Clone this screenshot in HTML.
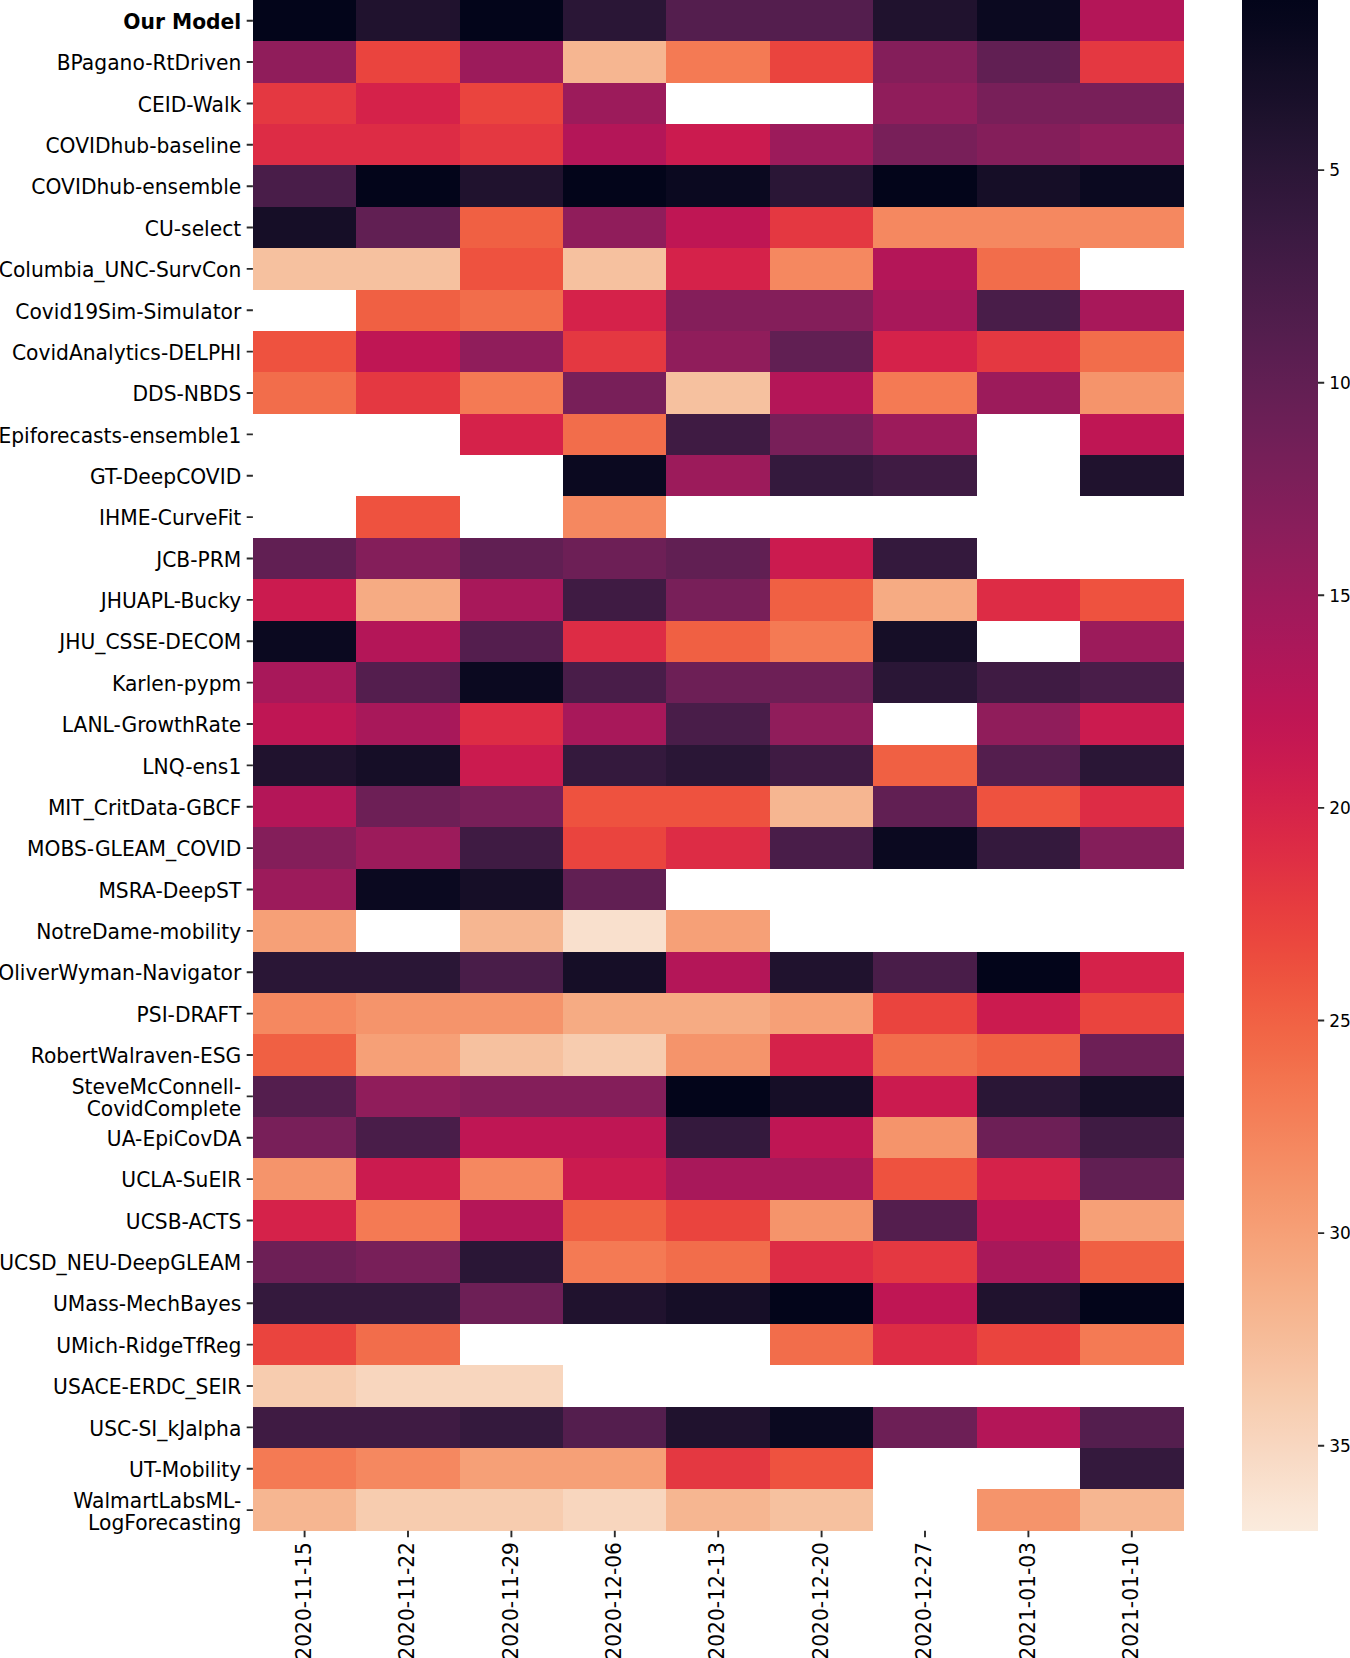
<!DOCTYPE html><html><head><meta charset="utf-8"><style>html,body{margin:0;padding:0;background:#fff;}svg{display:block;}text{font-family:"DejaVu Sans","Liberation Sans",sans-serif;font-size:20.26px;fill:#000;}</style></head><body>
<svg width="1350" height="1658" viewBox="0 0 1350 1658">
<defs><linearGradient id="cb" x1="0" y1="0" x2="0" y2="1"><stop offset="0.0000" stop-color="#03051a"/><stop offset="0.0156" stop-color="#07071d"/><stop offset="0.0312" stop-color="#0d0a21"/><stop offset="0.0469" stop-color="#130d25"/><stop offset="0.0625" stop-color="#180f29"/><stop offset="0.0781" stop-color="#1e122d"/><stop offset="0.0938" stop-color="#241432"/><stop offset="0.1094" stop-color="#2a1636"/><stop offset="0.1250" stop-color="#30173a"/><stop offset="0.1406" stop-color="#35193e"/><stop offset="0.1562" stop-color="#3c1a42"/><stop offset="0.1719" stop-color="#421b45"/><stop offset="0.1875" stop-color="#481c48"/><stop offset="0.2031" stop-color="#4e1d4b"/><stop offset="0.2188" stop-color="#541e4e"/><stop offset="0.2344" stop-color="#5b1e51"/><stop offset="0.2500" stop-color="#611f53"/><stop offset="0.2656" stop-color="#681f55"/><stop offset="0.2812" stop-color="#6e1f57"/><stop offset="0.2969" stop-color="#751f58"/><stop offset="0.3125" stop-color="#7b1f59"/><stop offset="0.3281" stop-color="#821e5a"/><stop offset="0.3438" stop-color="#891e5b"/><stop offset="0.3594" stop-color="#901d5b"/><stop offset="0.3750" stop-color="#971c5b"/><stop offset="0.3906" stop-color="#9e1a5b"/><stop offset="0.4062" stop-color="#a4195b"/><stop offset="0.4219" stop-color="#ab185a"/><stop offset="0.4375" stop-color="#b21758"/><stop offset="0.4531" stop-color="#b91657"/><stop offset="0.4688" stop-color="#bf1654"/><stop offset="0.4844" stop-color="#c51852"/><stop offset="0.5000" stop-color="#cb1b4f"/><stop offset="0.5156" stop-color="#d11f4c"/><stop offset="0.5312" stop-color="#d62449"/><stop offset="0.5469" stop-color="#db2946"/><stop offset="0.5625" stop-color="#df2f44"/><stop offset="0.5781" stop-color="#e33641"/><stop offset="0.5938" stop-color="#e73d3f"/><stop offset="0.6094" stop-color="#ea443e"/><stop offset="0.6250" stop-color="#ec4c3e"/><stop offset="0.6406" stop-color="#ee543f"/><stop offset="0.6562" stop-color="#f05c42"/><stop offset="0.6719" stop-color="#f16445"/><stop offset="0.6875" stop-color="#f26b49"/><stop offset="0.7031" stop-color="#f3734e"/><stop offset="0.7188" stop-color="#f47a54"/><stop offset="0.7344" stop-color="#f4815a"/><stop offset="0.7500" stop-color="#f58860"/><stop offset="0.7656" stop-color="#f58f66"/><stop offset="0.7812" stop-color="#f5966c"/><stop offset="0.7969" stop-color="#f69c73"/><stop offset="0.8125" stop-color="#f6a37a"/><stop offset="0.8281" stop-color="#f6a981"/><stop offset="0.8438" stop-color="#f6b089"/><stop offset="0.8594" stop-color="#f6b691"/><stop offset="0.8750" stop-color="#f6bc99"/><stop offset="0.8906" stop-color="#f7c2a2"/><stop offset="0.9062" stop-color="#f7c9aa"/><stop offset="0.9219" stop-color="#f7cfb3"/><stop offset="0.9375" stop-color="#f8d4bc"/><stop offset="0.9531" stop-color="#f8dac5"/><stop offset="0.9688" stop-color="#f9e0cd"/><stop offset="0.9844" stop-color="#fae6d6"/><stop offset="1.0000" stop-color="#faebdd"/></linearGradient></defs>
<g shape-rendering="crispEdges">
<rect x="253" y="0" width="103" height="41" fill="#03051a"/>
<rect x="356" y="0" width="104" height="41" fill="#20122e"/>
<rect x="460" y="0" width="103" height="41" fill="#03051a"/>
<rect x="563" y="0" width="103" height="41" fill="#2a1636"/>
<rect x="666" y="0" width="104" height="41" fill="#541e4e"/>
<rect x="770" y="0" width="103" height="41" fill="#541e4e"/>
<rect x="873" y="0" width="104" height="41" fill="#20122e"/>
<rect x="977" y="0" width="103" height="41" fill="#0b0920"/>
<rect x="1080" y="0" width="104" height="41" fill="#b41658"/>
<rect x="253" y="41" width="103" height="42" fill="#901d5b"/>
<rect x="356" y="41" width="104" height="42" fill="#ea443e"/>
<rect x="460" y="41" width="103" height="42" fill="#9c1b5b"/>
<rect x="563" y="41" width="103" height="42" fill="#f6b691"/>
<rect x="666" y="41" width="104" height="42" fill="#f47a54"/>
<rect x="770" y="41" width="103" height="42" fill="#ea443e"/>
<rect x="873" y="41" width="104" height="42" fill="#841e5a"/>
<rect x="977" y="41" width="103" height="42" fill="#611f53"/>
<rect x="1080" y="41" width="104" height="42" fill="#e43841"/>
<rect x="253" y="83" width="103" height="41" fill="#e43841"/>
<rect x="356" y="83" width="104" height="41" fill="#d5224a"/>
<rect x="460" y="83" width="103" height="41" fill="#ea443e"/>
<rect x="563" y="83" width="103" height="41" fill="#9c1b5b"/>
<rect x="873" y="83" width="104" height="41" fill="#901d5b"/>
<rect x="977" y="83" width="103" height="41" fill="#781f59"/>
<rect x="1080" y="83" width="104" height="41" fill="#781f59"/>
<rect x="253" y="124" width="103" height="41" fill="#dd2c45"/>
<rect x="356" y="124" width="104" height="41" fill="#dd2c45"/>
<rect x="460" y="124" width="103" height="41" fill="#e43841"/>
<rect x="563" y="124" width="103" height="41" fill="#b41658"/>
<rect x="666" y="124" width="104" height="41" fill="#cb1b4f"/>
<rect x="770" y="124" width="103" height="41" fill="#9c1b5b"/>
<rect x="873" y="124" width="104" height="41" fill="#781f59"/>
<rect x="977" y="124" width="103" height="41" fill="#841e5a"/>
<rect x="1080" y="124" width="104" height="41" fill="#901d5b"/>
<rect x="253" y="165" width="103" height="42" fill="#491d49"/>
<rect x="356" y="165" width="104" height="42" fill="#03051a"/>
<rect x="460" y="165" width="103" height="42" fill="#20122e"/>
<rect x="563" y="165" width="103" height="42" fill="#03051a"/>
<rect x="666" y="165" width="104" height="42" fill="#0b0920"/>
<rect x="770" y="165" width="103" height="42" fill="#2a1636"/>
<rect x="873" y="165" width="104" height="42" fill="#03051a"/>
<rect x="977" y="165" width="103" height="42" fill="#160e27"/>
<rect x="1080" y="165" width="104" height="42" fill="#0b0920"/>
<rect x="253" y="207" width="103" height="41" fill="#160e27"/>
<rect x="356" y="207" width="104" height="41" fill="#611f53"/>
<rect x="460" y="207" width="103" height="41" fill="#f06043"/>
<rect x="563" y="207" width="103" height="41" fill="#901d5b"/>
<rect x="666" y="207" width="104" height="41" fill="#bf1654"/>
<rect x="770" y="207" width="103" height="41" fill="#e43841"/>
<rect x="873" y="207" width="104" height="41" fill="#f58860"/>
<rect x="977" y="207" width="103" height="41" fill="#f58860"/>
<rect x="1080" y="207" width="104" height="41" fill="#f58860"/>
<rect x="253" y="248" width="103" height="42" fill="#f6c19f"/>
<rect x="356" y="248" width="104" height="42" fill="#f6c19f"/>
<rect x="460" y="248" width="103" height="42" fill="#ee523f"/>
<rect x="563" y="248" width="103" height="42" fill="#f6c19f"/>
<rect x="666" y="248" width="104" height="42" fill="#d5224a"/>
<rect x="770" y="248" width="103" height="42" fill="#f58860"/>
<rect x="873" y="248" width="104" height="42" fill="#b41658"/>
<rect x="977" y="248" width="103" height="42" fill="#f26d4b"/>
<rect x="356" y="290" width="104" height="41" fill="#f06043"/>
<rect x="460" y="290" width="103" height="41" fill="#f26d4b"/>
<rect x="563" y="290" width="103" height="41" fill="#d5224a"/>
<rect x="666" y="290" width="104" height="41" fill="#841e5a"/>
<rect x="770" y="290" width="103" height="41" fill="#841e5a"/>
<rect x="873" y="290" width="104" height="41" fill="#a8185a"/>
<rect x="977" y="290" width="103" height="41" fill="#491d49"/>
<rect x="1080" y="290" width="104" height="41" fill="#a8185a"/>
<rect x="253" y="331" width="103" height="41" fill="#ee523f"/>
<rect x="356" y="331" width="104" height="41" fill="#bf1654"/>
<rect x="460" y="331" width="103" height="41" fill="#901d5b"/>
<rect x="563" y="331" width="103" height="41" fill="#e43841"/>
<rect x="666" y="331" width="104" height="41" fill="#901d5b"/>
<rect x="770" y="331" width="103" height="41" fill="#611f53"/>
<rect x="873" y="331" width="104" height="41" fill="#d5224a"/>
<rect x="977" y="331" width="103" height="41" fill="#e43841"/>
<rect x="1080" y="331" width="104" height="41" fill="#f26d4b"/>
<rect x="253" y="372" width="103" height="42" fill="#f26d4b"/>
<rect x="356" y="372" width="104" height="42" fill="#e43841"/>
<rect x="460" y="372" width="103" height="42" fill="#f47a54"/>
<rect x="563" y="372" width="103" height="42" fill="#781f59"/>
<rect x="666" y="372" width="104" height="42" fill="#f6c19f"/>
<rect x="770" y="372" width="103" height="42" fill="#b41658"/>
<rect x="873" y="372" width="104" height="42" fill="#f47a54"/>
<rect x="977" y="372" width="103" height="42" fill="#9c1b5b"/>
<rect x="1080" y="372" width="104" height="42" fill="#f5946b"/>
<rect x="460" y="414" width="103" height="41" fill="#d5224a"/>
<rect x="563" y="414" width="103" height="41" fill="#f26d4b"/>
<rect x="666" y="414" width="104" height="41" fill="#3f1b43"/>
<rect x="770" y="414" width="103" height="41" fill="#781f59"/>
<rect x="873" y="414" width="104" height="41" fill="#9c1b5b"/>
<rect x="1080" y="414" width="104" height="41" fill="#bf1654"/>
<rect x="563" y="455" width="103" height="41" fill="#0b0920"/>
<rect x="666" y="455" width="104" height="41" fill="#9c1b5b"/>
<rect x="770" y="455" width="103" height="41" fill="#34193d"/>
<rect x="873" y="455" width="104" height="41" fill="#3f1b43"/>
<rect x="1080" y="455" width="104" height="41" fill="#20122e"/>
<rect x="356" y="496" width="104" height="42" fill="#ee523f"/>
<rect x="563" y="496" width="103" height="42" fill="#f58860"/>
<rect x="253" y="538" width="103" height="41" fill="#611f53"/>
<rect x="356" y="538" width="104" height="41" fill="#841e5a"/>
<rect x="460" y="538" width="103" height="41" fill="#611f53"/>
<rect x="563" y="538" width="103" height="41" fill="#6d1f56"/>
<rect x="666" y="538" width="104" height="41" fill="#611f53"/>
<rect x="770" y="538" width="103" height="41" fill="#cb1b4f"/>
<rect x="873" y="538" width="104" height="41" fill="#34193d"/>
<rect x="253" y="579" width="103" height="42" fill="#cb1b4f"/>
<rect x="356" y="579" width="104" height="42" fill="#f6ab83"/>
<rect x="460" y="579" width="103" height="42" fill="#a8185a"/>
<rect x="563" y="579" width="103" height="42" fill="#3f1b43"/>
<rect x="666" y="579" width="104" height="42" fill="#781f59"/>
<rect x="770" y="579" width="103" height="42" fill="#f06043"/>
<rect x="873" y="579" width="104" height="42" fill="#f6ab83"/>
<rect x="977" y="579" width="103" height="42" fill="#dd2c45"/>
<rect x="1080" y="579" width="104" height="42" fill="#ee523f"/>
<rect x="253" y="621" width="103" height="41" fill="#0b0920"/>
<rect x="356" y="621" width="104" height="41" fill="#b41658"/>
<rect x="460" y="621" width="103" height="41" fill="#541e4e"/>
<rect x="563" y="621" width="103" height="41" fill="#dd2c45"/>
<rect x="666" y="621" width="104" height="41" fill="#f06043"/>
<rect x="770" y="621" width="103" height="41" fill="#f47a54"/>
<rect x="873" y="621" width="104" height="41" fill="#160e27"/>
<rect x="1080" y="621" width="104" height="41" fill="#9c1b5b"/>
<rect x="253" y="662" width="103" height="41" fill="#a8185a"/>
<rect x="356" y="662" width="104" height="41" fill="#541e4e"/>
<rect x="460" y="662" width="103" height="41" fill="#0b0920"/>
<rect x="563" y="662" width="103" height="41" fill="#491d49"/>
<rect x="666" y="662" width="104" height="41" fill="#6d1f56"/>
<rect x="770" y="662" width="103" height="41" fill="#6d1f56"/>
<rect x="873" y="662" width="104" height="41" fill="#2a1636"/>
<rect x="977" y="662" width="103" height="41" fill="#3f1b43"/>
<rect x="1080" y="662" width="104" height="41" fill="#491d49"/>
<rect x="253" y="703" width="103" height="42" fill="#bf1654"/>
<rect x="356" y="703" width="104" height="42" fill="#a8185a"/>
<rect x="460" y="703" width="103" height="42" fill="#dd2c45"/>
<rect x="563" y="703" width="103" height="42" fill="#a8185a"/>
<rect x="666" y="703" width="104" height="42" fill="#491d49"/>
<rect x="770" y="703" width="103" height="42" fill="#901d5b"/>
<rect x="977" y="703" width="103" height="42" fill="#901d5b"/>
<rect x="1080" y="703" width="104" height="42" fill="#cb1b4f"/>
<rect x="253" y="745" width="103" height="41" fill="#20122e"/>
<rect x="356" y="745" width="104" height="41" fill="#160e27"/>
<rect x="460" y="745" width="103" height="41" fill="#cb1b4f"/>
<rect x="563" y="745" width="103" height="41" fill="#34193d"/>
<rect x="666" y="745" width="104" height="41" fill="#2a1636"/>
<rect x="770" y="745" width="103" height="41" fill="#3f1b43"/>
<rect x="873" y="745" width="104" height="41" fill="#f06043"/>
<rect x="977" y="745" width="103" height="41" fill="#541e4e"/>
<rect x="1080" y="745" width="104" height="41" fill="#2a1636"/>
<rect x="253" y="786" width="103" height="41" fill="#b41658"/>
<rect x="356" y="786" width="104" height="41" fill="#6d1f56"/>
<rect x="460" y="786" width="103" height="41" fill="#781f59"/>
<rect x="563" y="786" width="103" height="41" fill="#ee523f"/>
<rect x="666" y="786" width="104" height="41" fill="#ee523f"/>
<rect x="770" y="786" width="103" height="41" fill="#f6b691"/>
<rect x="873" y="786" width="104" height="41" fill="#611f53"/>
<rect x="977" y="786" width="103" height="41" fill="#ee523f"/>
<rect x="1080" y="786" width="104" height="41" fill="#dd2c45"/>
<rect x="253" y="827" width="103" height="42" fill="#841e5a"/>
<rect x="356" y="827" width="104" height="42" fill="#9c1b5b"/>
<rect x="460" y="827" width="103" height="42" fill="#3f1b43"/>
<rect x="563" y="827" width="103" height="42" fill="#ea443e"/>
<rect x="666" y="827" width="104" height="42" fill="#dd2c45"/>
<rect x="770" y="827" width="103" height="42" fill="#491d49"/>
<rect x="873" y="827" width="104" height="42" fill="#0b0920"/>
<rect x="977" y="827" width="103" height="42" fill="#34193d"/>
<rect x="1080" y="827" width="104" height="42" fill="#841e5a"/>
<rect x="253" y="869" width="103" height="41" fill="#9c1b5b"/>
<rect x="356" y="869" width="104" height="41" fill="#0b0920"/>
<rect x="460" y="869" width="103" height="41" fill="#160e27"/>
<rect x="563" y="869" width="103" height="41" fill="#611f53"/>
<rect x="253" y="910" width="103" height="42" fill="#f6a077"/>
<rect x="460" y="910" width="103" height="42" fill="#f6b691"/>
<rect x="563" y="910" width="103" height="42" fill="#f9e0cd"/>
<rect x="666" y="910" width="104" height="42" fill="#f6a077"/>
<rect x="253" y="952" width="103" height="41" fill="#2a1636"/>
<rect x="356" y="952" width="104" height="41" fill="#2a1636"/>
<rect x="460" y="952" width="103" height="41" fill="#491d49"/>
<rect x="563" y="952" width="103" height="41" fill="#160e27"/>
<rect x="666" y="952" width="104" height="41" fill="#b41658"/>
<rect x="770" y="952" width="103" height="41" fill="#20122e"/>
<rect x="873" y="952" width="104" height="41" fill="#491d49"/>
<rect x="977" y="952" width="103" height="41" fill="#03051a"/>
<rect x="1080" y="952" width="104" height="41" fill="#d5224a"/>
<rect x="253" y="993" width="103" height="41" fill="#f58860"/>
<rect x="356" y="993" width="104" height="41" fill="#f5946b"/>
<rect x="460" y="993" width="103" height="41" fill="#f5946b"/>
<rect x="563" y="993" width="103" height="41" fill="#f6ab83"/>
<rect x="666" y="993" width="104" height="41" fill="#f6ab83"/>
<rect x="770" y="993" width="103" height="41" fill="#f6a077"/>
<rect x="873" y="993" width="104" height="41" fill="#ea443e"/>
<rect x="977" y="993" width="103" height="41" fill="#cb1b4f"/>
<rect x="1080" y="993" width="104" height="41" fill="#ea443e"/>
<rect x="253" y="1034" width="103" height="42" fill="#f06043"/>
<rect x="356" y="1034" width="104" height="42" fill="#f6a077"/>
<rect x="460" y="1034" width="103" height="42" fill="#f6c19f"/>
<rect x="563" y="1034" width="103" height="42" fill="#f7ccaf"/>
<rect x="666" y="1034" width="104" height="42" fill="#f5946b"/>
<rect x="770" y="1034" width="103" height="42" fill="#d5224a"/>
<rect x="873" y="1034" width="104" height="42" fill="#f26d4b"/>
<rect x="977" y="1034" width="103" height="42" fill="#f06043"/>
<rect x="1080" y="1034" width="104" height="42" fill="#6d1f56"/>
<rect x="253" y="1076" width="103" height="41" fill="#541e4e"/>
<rect x="356" y="1076" width="104" height="41" fill="#901d5b"/>
<rect x="460" y="1076" width="103" height="41" fill="#841e5a"/>
<rect x="563" y="1076" width="103" height="41" fill="#841e5a"/>
<rect x="666" y="1076" width="104" height="41" fill="#03051a"/>
<rect x="770" y="1076" width="103" height="41" fill="#160e27"/>
<rect x="873" y="1076" width="104" height="41" fill="#cb1b4f"/>
<rect x="977" y="1076" width="103" height="41" fill="#2a1636"/>
<rect x="1080" y="1076" width="104" height="41" fill="#160e27"/>
<rect x="253" y="1117" width="103" height="41" fill="#781f59"/>
<rect x="356" y="1117" width="104" height="41" fill="#491d49"/>
<rect x="460" y="1117" width="103" height="41" fill="#bf1654"/>
<rect x="563" y="1117" width="103" height="41" fill="#bf1654"/>
<rect x="666" y="1117" width="104" height="41" fill="#34193d"/>
<rect x="770" y="1117" width="103" height="41" fill="#bf1654"/>
<rect x="873" y="1117" width="104" height="41" fill="#f5946b"/>
<rect x="977" y="1117" width="103" height="41" fill="#6d1f56"/>
<rect x="1080" y="1117" width="104" height="41" fill="#3f1b43"/>
<rect x="253" y="1158" width="103" height="42" fill="#f5946b"/>
<rect x="356" y="1158" width="104" height="42" fill="#cb1b4f"/>
<rect x="460" y="1158" width="103" height="42" fill="#f58860"/>
<rect x="563" y="1158" width="103" height="42" fill="#cb1b4f"/>
<rect x="666" y="1158" width="104" height="42" fill="#a8185a"/>
<rect x="770" y="1158" width="103" height="42" fill="#a8185a"/>
<rect x="873" y="1158" width="104" height="42" fill="#ee523f"/>
<rect x="977" y="1158" width="103" height="42" fill="#d5224a"/>
<rect x="1080" y="1158" width="104" height="42" fill="#611f53"/>
<rect x="253" y="1200" width="103" height="41" fill="#d5224a"/>
<rect x="356" y="1200" width="104" height="41" fill="#f47a54"/>
<rect x="460" y="1200" width="103" height="41" fill="#b41658"/>
<rect x="563" y="1200" width="103" height="41" fill="#f06043"/>
<rect x="666" y="1200" width="104" height="41" fill="#ea443e"/>
<rect x="770" y="1200" width="103" height="41" fill="#f5946b"/>
<rect x="873" y="1200" width="104" height="41" fill="#541e4e"/>
<rect x="977" y="1200" width="103" height="41" fill="#bf1654"/>
<rect x="1080" y="1200" width="104" height="41" fill="#f6a077"/>
<rect x="253" y="1241" width="103" height="42" fill="#6d1f56"/>
<rect x="356" y="1241" width="104" height="42" fill="#781f59"/>
<rect x="460" y="1241" width="103" height="42" fill="#2a1636"/>
<rect x="563" y="1241" width="103" height="42" fill="#f47a54"/>
<rect x="666" y="1241" width="104" height="42" fill="#f26d4b"/>
<rect x="770" y="1241" width="103" height="42" fill="#dd2c45"/>
<rect x="873" y="1241" width="104" height="42" fill="#e43841"/>
<rect x="977" y="1241" width="103" height="42" fill="#a8185a"/>
<rect x="1080" y="1241" width="104" height="42" fill="#f06043"/>
<rect x="253" y="1283" width="103" height="41" fill="#34193d"/>
<rect x="356" y="1283" width="104" height="41" fill="#34193d"/>
<rect x="460" y="1283" width="103" height="41" fill="#6d1f56"/>
<rect x="563" y="1283" width="103" height="41" fill="#20122e"/>
<rect x="666" y="1283" width="104" height="41" fill="#160e27"/>
<rect x="770" y="1283" width="103" height="41" fill="#03051a"/>
<rect x="873" y="1283" width="104" height="41" fill="#bf1654"/>
<rect x="977" y="1283" width="103" height="41" fill="#20122e"/>
<rect x="1080" y="1283" width="104" height="41" fill="#03051a"/>
<rect x="253" y="1324" width="103" height="41" fill="#ea443e"/>
<rect x="356" y="1324" width="104" height="41" fill="#f26d4b"/>
<rect x="770" y="1324" width="103" height="41" fill="#f26d4b"/>
<rect x="873" y="1324" width="104" height="41" fill="#dd2c45"/>
<rect x="977" y="1324" width="103" height="41" fill="#ea443e"/>
<rect x="1080" y="1324" width="104" height="41" fill="#f47a54"/>
<rect x="253" y="1365" width="103" height="42" fill="#f7ccaf"/>
<rect x="356" y="1365" width="104" height="42" fill="#f8d6be"/>
<rect x="460" y="1365" width="103" height="42" fill="#f8d6be"/>
<rect x="253" y="1407" width="103" height="41" fill="#3f1b43"/>
<rect x="356" y="1407" width="104" height="41" fill="#3f1b43"/>
<rect x="460" y="1407" width="103" height="41" fill="#34193d"/>
<rect x="563" y="1407" width="103" height="41" fill="#541e4e"/>
<rect x="666" y="1407" width="104" height="41" fill="#20122e"/>
<rect x="770" y="1407" width="103" height="41" fill="#0b0920"/>
<rect x="873" y="1407" width="104" height="41" fill="#6d1f56"/>
<rect x="977" y="1407" width="103" height="41" fill="#b41658"/>
<rect x="1080" y="1407" width="104" height="41" fill="#541e4e"/>
<rect x="253" y="1448" width="103" height="41" fill="#f47a54"/>
<rect x="356" y="1448" width="104" height="41" fill="#f58860"/>
<rect x="460" y="1448" width="103" height="41" fill="#f6a077"/>
<rect x="563" y="1448" width="103" height="41" fill="#f6a077"/>
<rect x="666" y="1448" width="104" height="41" fill="#e43841"/>
<rect x="770" y="1448" width="103" height="41" fill="#ee523f"/>
<rect x="1080" y="1448" width="104" height="41" fill="#34193d"/>
<rect x="253" y="1489" width="103" height="42" fill="#f6b691"/>
<rect x="356" y="1489" width="104" height="42" fill="#f7ccaf"/>
<rect x="460" y="1489" width="103" height="42" fill="#f7ccaf"/>
<rect x="563" y="1489" width="103" height="42" fill="#f8d6be"/>
<rect x="666" y="1489" width="104" height="42" fill="#f6b691"/>
<rect x="770" y="1489" width="103" height="42" fill="#f6c19f"/>
<rect x="977" y="1489" width="103" height="42" fill="#f5946b"/>
<rect x="1080" y="1489" width="104" height="42" fill="#f6b691"/>
<rect x="1241.5" y="0.0" width="76.5" height="1530.8" fill="url(#cb)"/>
</g>
<path d="M246.7 20.69H252.9M246.7 62.06H252.9M246.7 103.43H252.9M246.7 144.81H252.9M246.7 186.18H252.9M246.7 227.55H252.9M246.7 268.92H252.9M246.7 310.30H252.9M246.7 351.67H252.9M246.7 393.04H252.9M246.7 434.42H252.9M246.7 475.79H252.9M246.7 517.16H252.9M246.7 558.54H252.9M246.7 599.91H252.9M246.7 641.28H252.9M246.7 682.65H252.9M246.7 724.03H252.9M246.7 765.40H252.9M246.7 806.77H252.9M246.7 848.15H252.9M246.7 889.52H252.9M246.7 930.89H252.9M246.7 972.26H252.9M246.7 1013.64H252.9M246.7 1055.01H252.9M246.7 1096.38H252.9M246.7 1137.76H252.9M246.7 1179.13H252.9M246.7 1220.50H252.9M246.7 1261.88H252.9M246.7 1303.25H252.9M246.7 1344.62H252.9M246.7 1385.99H252.9M246.7 1427.37H252.9M246.7 1468.74H252.9M246.7 1510.11H252.9M304.60 1530.8V1537.3M408.00 1530.8V1537.3M511.40 1530.8V1537.3M614.80 1530.8V1537.3M718.20 1530.8V1537.3M821.60 1530.8V1537.3M925.00 1530.8V1537.3M1028.40 1530.8V1537.3M1131.80 1530.8V1537.3M1318.0 170.09H1324.2M1318.0 382.70H1324.2M1318.0 595.31H1324.2M1318.0 807.92H1324.2M1318.0 1020.53H1324.2M1318.0 1233.14H1324.2M1318.0 1445.76H1324.2" stroke="#2a2a2a" stroke-width="1.9" fill="none"/>
<text transform="translate(241.3 28.89) scale(1 1.056)" text-anchor="end" font-weight="bold">Our Model</text>
<text transform="translate(241.3 70.26) scale(1 1.056)" text-anchor="end">BPagano-RtDriven</text>
<text transform="translate(241.3 111.63) scale(1 1.056)" text-anchor="end">CEID-Walk</text>
<text transform="translate(241.3 153.01) scale(1 1.056)" text-anchor="end">COVIDhub-baseline</text>
<text transform="translate(241.3 194.38) scale(1 1.056)" text-anchor="end">COVIDhub-ensemble</text>
<text transform="translate(241.3 235.75) scale(1 1.056)" text-anchor="end">CU-select</text>
<text transform="translate(241.3 277.12) scale(1 1.056)" text-anchor="end">Columbia_UNC-SurvCon</text>
<text transform="translate(241.3 318.50) scale(1 1.056)" text-anchor="end">Covid19Sim-Simulator</text>
<text transform="translate(241.3 359.87) scale(1 1.056)" text-anchor="end">CovidAnalytics-DELPHI</text>
<text transform="translate(241.3 401.24) scale(1 1.056)" text-anchor="end">DDS-NBDS</text>
<text transform="translate(241.3 442.62) scale(1 1.056)" text-anchor="end">Epiforecasts-ensemble1</text>
<text transform="translate(241.3 483.99) scale(1 1.056)" text-anchor="end">GT-DeepCOVID</text>
<text transform="translate(241.3 525.36) scale(1 1.056)" text-anchor="end">IHME-CurveFit</text>
<text transform="translate(241.3 566.74) scale(1 1.056)" text-anchor="end">JCB-PRM</text>
<text transform="translate(241.3 608.11) scale(1 1.056)" text-anchor="end">JHUAPL-Bucky</text>
<text transform="translate(241.3 649.48) scale(1 1.056)" text-anchor="end">JHU_CSSE-DECOM</text>
<text transform="translate(241.3 690.85) scale(1 1.056)" text-anchor="end">Karlen-pypm</text>
<text transform="translate(241.3 732.23) scale(1 1.056)" text-anchor="end">LANL-GrowthRate</text>
<text transform="translate(241.3 773.60) scale(1 1.056)" text-anchor="end">LNQ-ens1</text>
<text transform="translate(241.3 814.97) scale(1 1.056)" text-anchor="end">MIT_CritData-GBCF</text>
<text transform="translate(241.3 856.35) scale(1 1.056)" text-anchor="end">MOBS-GLEAM_COVID</text>
<text transform="translate(241.3 897.72) scale(1 1.056)" text-anchor="end">MSRA-DeepST</text>
<text transform="translate(241.3 939.09) scale(1 1.056)" text-anchor="end">NotreDame-mobility</text>
<text transform="translate(241.3 980.46) scale(1 1.056)" text-anchor="end">OliverWyman-Navigator</text>
<text transform="translate(241.3 1021.84) scale(1 1.056)" text-anchor="end">PSI-DRAFT</text>
<text transform="translate(241.3 1063.21) scale(1 1.056)" text-anchor="end">RobertWalraven-ESG</text>
<text transform="translate(241.3 1094.08) scale(1 1.056)" text-anchor="end">SteveMcConnell-</text>
<text transform="translate(241.3 1116.48) scale(1 1.056)" text-anchor="end">CovidComplete</text>
<text transform="translate(241.3 1145.96) scale(1 1.056)" text-anchor="end">UA-EpiCovDA</text>
<text transform="translate(241.3 1187.33) scale(1 1.056)" text-anchor="end">UCLA-SuEIR</text>
<text transform="translate(241.3 1228.70) scale(1 1.056)" text-anchor="end">UCSB-ACTS</text>
<text transform="translate(241.3 1270.08) scale(1 1.056)" text-anchor="end">UCSD_NEU-DeepGLEAM</text>
<text transform="translate(241.3 1311.45) scale(1 1.056)" text-anchor="end">UMass-MechBayes</text>
<text transform="translate(241.3 1352.82) scale(1 1.056)" text-anchor="end">UMich-RidgeTfReg</text>
<text transform="translate(241.3 1394.19) scale(1 1.056)" text-anchor="end">USACE-ERDC_SEIR</text>
<text transform="translate(241.3 1435.57) scale(1 1.056)" text-anchor="end">USC-SI_kJalpha</text>
<text transform="translate(241.3 1476.94) scale(1 1.056)" text-anchor="end">UT-Mobility</text>
<text transform="translate(241.3 1507.81) scale(1 1.056)" text-anchor="end">WalmartLabsML-</text>
<text transform="translate(241.3 1530.21) scale(1 1.056)" text-anchor="end">LogForecasting</text>
<text transform="translate(310.80 1542.0) rotate(-90) scale(1 1.056)" text-anchor="end">2020-11-15</text>
<text transform="translate(414.20 1542.0) rotate(-90) scale(1 1.056)" text-anchor="end">2020-11-22</text>
<text transform="translate(517.60 1542.0) rotate(-90) scale(1 1.056)" text-anchor="end">2020-11-29</text>
<text transform="translate(621.00 1542.0) rotate(-90) scale(1 1.056)" text-anchor="end">2020-12-06</text>
<text transform="translate(724.40 1542.0) rotate(-90) scale(1 1.056)" text-anchor="end">2020-12-13</text>
<text transform="translate(827.80 1542.0) rotate(-90) scale(1 1.056)" text-anchor="end">2020-12-20</text>
<text transform="translate(931.20 1542.0) rotate(-90) scale(1 1.056)" text-anchor="end">2020-12-27</text>
<text transform="translate(1034.60 1542.0) rotate(-90) scale(1 1.056)" text-anchor="end">2021-01-03</text>
<text transform="translate(1138.00 1542.0) rotate(-90) scale(1 1.056)" text-anchor="end">2021-01-10</text>
<text x="1329.3" y="176.39" style="font-size:17px">5</text>
<text x="1329.3" y="389.00" style="font-size:17px">10</text>
<text x="1329.3" y="601.61" style="font-size:17px">15</text>
<text x="1329.3" y="814.22" style="font-size:17px">20</text>
<text x="1329.3" y="1026.83" style="font-size:17px">25</text>
<text x="1329.3" y="1239.44" style="font-size:17px">30</text>
<text x="1329.3" y="1452.06" style="font-size:17px">35</text>
</svg></body></html>
